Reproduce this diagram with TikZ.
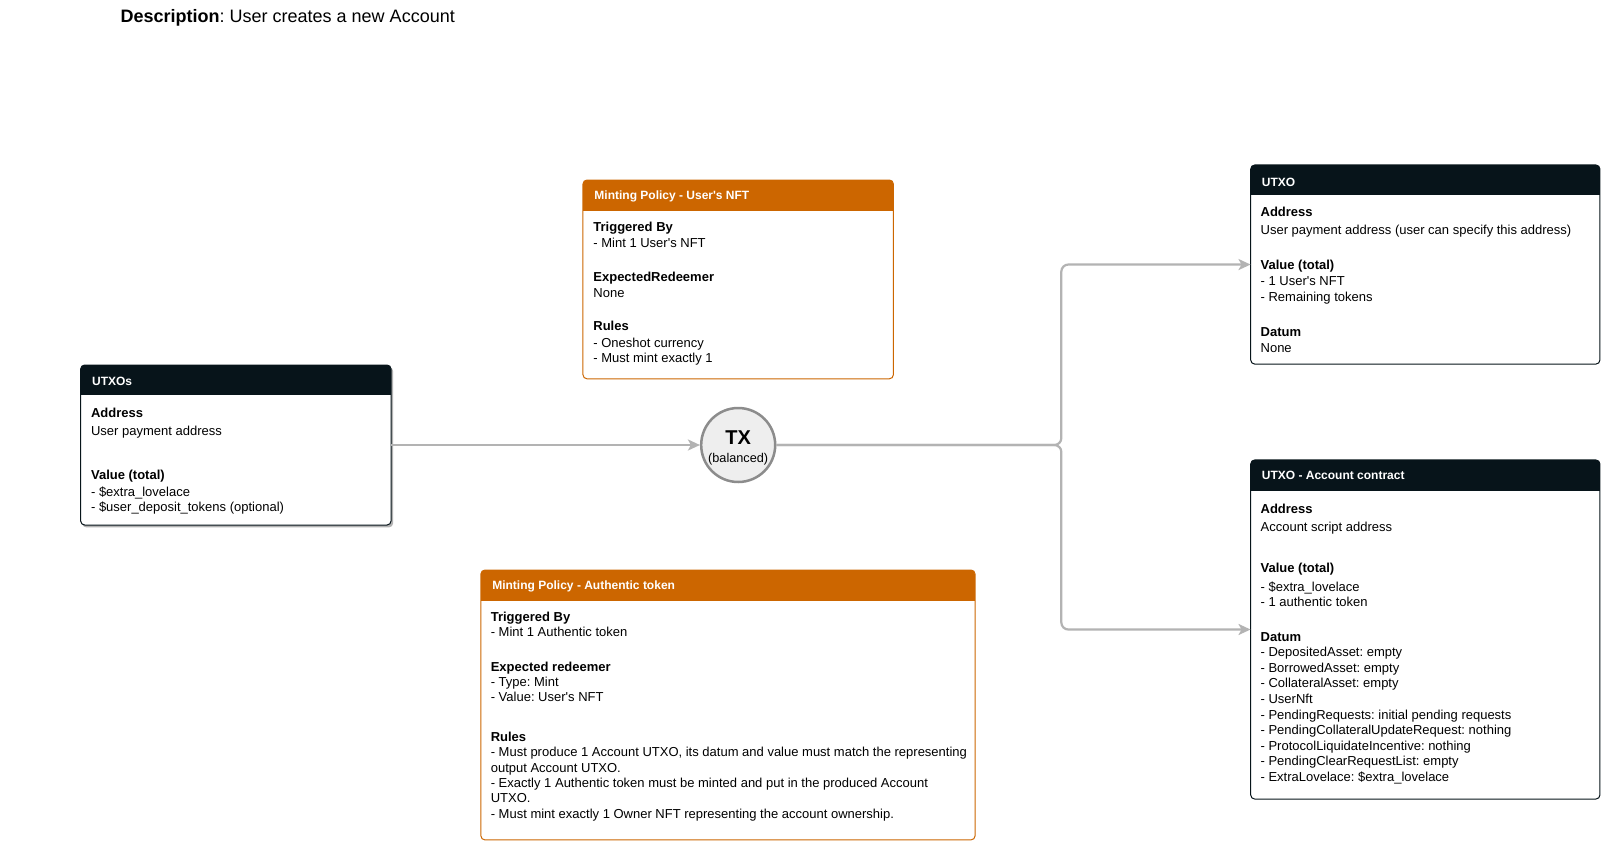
\documentclass[tikz,border=0pt]{standalone}
\usepackage{fontspec}
\setmainfont{Liberation Sans}
\usetikzlibrary{arrows.meta,fit}
\definecolor{hdrdark}{HTML}{07141A}
\definecolor{orng}{HTML}{CC6600}
\definecolor{connc}{HTML}{B3B3B3}
\definecolor{txring}{HTML}{8C8C8C}
\definecolor{txfill}{HTML}{EEEEEE}
\newcommand\ap{\textquotesingle}
\frenchspacing
\newcommand\boxlines[3]{\foreach \lyy/\ltt [count=\i] in {#3} {\node[txt] (#1-\i) at (#2,\lyy+4.5) {\ltt};}}
% name, x1, y1, x2, y2, header bottom, colour
\newcommand\umlbox[7]{%
  \node[fit={(#2,#3)(#4,#5)}, inner sep=0pt, rounded corners=4pt, fill=white] (#1) {};
  \begin{scope}
    \clip[rounded corners=4pt] (#2,#3) rectangle (#4,#5);
    \fill[#7] (#2,#3) rectangle (#4,#6);
  \end{scope}
  \draw[#7, line width=1pt, rounded corners=4pt] (#2,#3) rectangle (#4,#5);
}
\begin{document}
\frenchspacing
\begin{tikzpicture}[x=1.021pt,y=-1.021pt,
  txt/.style={anchor=base west, inner sep=0pt, font=\fontsize{13}{15}\selectfont},
  hdrtxt/.style={anchor=base west, inner sep=0pt, text=white, font=\fontsize{12}{14}\selectfont\bfseries},
  connline/.style={draw=connc, line width=2.2pt, rounded corners=7pt, -{Stealth[length=12pt,width=11pt,inset=3pt]}}]
\fill[white] (0,0) rectangle (1568.07,823.7);
\useasboundingbox (0,0) rectangle (1568.07,823.7);

% title
\node[anchor=base west, inner sep=0pt, font=\fontsize{18}{22}\selectfont] (title) at (118,21.8) {\textbf{Description}: User creates a new Account};

% UTXOs (input)
\fill[black, opacity=0.3, rounded corners=4pt] (80.5,359.5) rectangle (385,516.5);
\umlbox{utxos}{79}{357.5}{383}{514.2}{386.9}{hdrdark}
\node[hdrtxt] (utxos-h) at (90,378) {UTXOs};
\boxlines{utxos}{89}{404.5/{\textbf{Address}}, 422.1/{User payment address}, 465.2/{\textbf{Value (total)}}, 481.9/{- \$extra\_lovelace}, 496.6/{- \$user\_deposit\_tokens (optional)}}

% Minting policy - User's NFT
\umlbox{nftpol}{571}{176.3}{875}{371}{206.3}{orng}
\node[hdrtxt] (nftpol-h) at (582,195.2) {Minting Policy - User\ap s NFT};
\boxlines{nftpol}{581}{222/{\textbf{Triggered By}}, 237.7/{- Mint 1 User\ap s NFT}, 271/{\textbf{ExpectedRedeemer}}, 286.7/{None}, 319.3/{\textbf{Rules}}, 335.6/{- Oneshot currency}, 350.3/{- Must mint exactly 1}}

% Minting policy - Authentic token
\umlbox{authpol}{471}{558.3}{955}{822.6}{588.3}{orng}
\node[hdrtxt] (authpol-h) at (482,577.8) {Minting Policy - Authentic token};
\boxlines{authpol}{480.5}{604/{\textbf{Triggered By}}, 619.3/{- Mint 1 Authentic token}, 653/{\textbf{Expected redeemer}}, 668.3/{- Type: Mint}, 683/{- Value: User\ap s NFT}, 721.5/{\textbf{Rules}}, 736.8/{- Must produce 1 Account UTXO, its datum and value must match the representing}, 751.9/{output Account UTXO.}, 767.2/{- Exactly 1 Authentic token must be minted and put in the produced Account}, 781.9/{UTXO.}, 797.6/{- Must mint exactly 1 Owner NFT representing the account ownership.}}

% UTXO (user output)
\umlbox{utxo1}{1225}{161.6}{1567}{356.6}{191}{hdrdark}
\node[hdrtxt] (utxo1-h) at (1235.7,182.2) {UTXO};
\boxlines{utxo1}{1234.5}{207.4/{\textbf{Address}}, 225.3/{User payment address (user can specify this address)}, 259.6/{\textbf{Value (total)}}, 275.2/{- 1 User\ap s NFT}, 290.6/{- Remaining tokens}, 325.5/{\textbf{Datum}}, 340.4/{None}}

% UTXO - Account contract
\umlbox{acct}{1225}{450.5}{1567}{782.6}{480.6}{hdrdark}
\node[hdrtxt] (acct-h) at (1235.7,469.4) {UTXO - Account contract};
\boxlines{acct}{1234.5}{498.5/{\textbf{Address}}, 516.5/{Account script address}, 556.6/{\textbf{Value (total)}}, 574.6/{- \$extra\_lovelace}, 589.9/{- 1 authentic token}, 623.6/{\textbf{Datum}}, 638.9/{- DepositedAsset: empty}, 654.1/{- BorrowedAsset: empty}, 669.3/{- CollateralAsset: empty}, 684.5/{- UserNft}, 699.8/{- PendingRequests: initial pending requests}, 715/{- PendingCollateralUpdateRequest: nothing}, 730.2/{- ProtocolLiquidateIncentive: nothing}, 745.5/{- PendingClearRequestList: empty}, 760.7/{- ExtraLovelace: \$extra\_lovelace}}

% TX
\node[circle, draw=txring, fill=txfill, line width=2.5pt, minimum size=74pt, inner sep=0pt] (tx) at (723,435.85) {};
\node[anchor=base, inner sep=0pt, font=\fontsize{20}{24}\selectfont\bfseries] (tx-t) at (723,434.9) {TX};
\node[anchor=base, inner sep=0pt, font=\fontsize{12.7}{15}\selectfont] (tx-s) at (723,453.4) {(balanced)};

% connectors
\coordinate (br) at (1039.5,435.85);
\draw[connline] (utxos.east) -- (tx.west);
\draw[connline] (tx.east) -- (br) |- (utxo1.west);
\draw[connline] (tx.east) -- (br) |- (acct.west);
\end{tikzpicture}
\end{document}
